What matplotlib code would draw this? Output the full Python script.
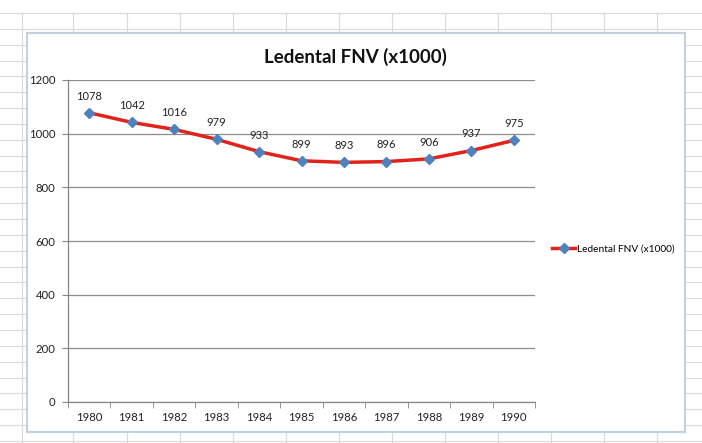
import matplotlib
matplotlib.use("Agg")
import matplotlib.pyplot as plt
from matplotlib.lines import Line2D
from matplotlib.patches import Rectangle

years = ["1980", "1981", "1982", "1983", "1984", "1985", "1986", "1987", "1988", "1989", "1990"]
values = [1078, 1042, 1016, 979, 933, 899, 893, 896, 906, 937, 975]
series_name = "Ledental FNV (x1000)"
title = "Ledental FNV (x1000)"
y_ticks = [0, 200, 400, 600, 800, 1000, 1200]

plt.rcParams['font.family'] = ['Lato', 'DejaVu Sans']

W, H = 702, 443
fig = plt.figure(figsize=(W / 100, H / 100), dpi=100)
fig.patch.set_facecolor("white")

def fx(x):
    return x / W

def fy(y):
    return 1 - y / H

# spreadsheet grid in background
gcol = "#d8dadc"
for x in [22, 73, 127, 180, 233, 286, 339, 392, 445, 498, 551, 604, 657]:
    fig.add_artist(Line2D([fx(x), fx(x)], [fy(13), fy(443)], color=gcol, lw=0.8, zorder=0))
y = 13.0
while y < H:
    fig.add_artist(Line2D([fx(0), fx(W)], [fy(y), fy(y)], color=gcol, lw=0.8, zorder=0))
    y += 15.85

# chart area
fig.add_artist(Rectangle((fx(27), fy(432)), fx(685) - fx(27), fy(33) - fy(432),
                         transform=fig.transFigure, facecolor="white",
                         edgecolor="#c3d2dd", lw=1.6, zorder=1))

ax = fig.add_axes([fx(68), fy(402), fx(535) - fx(68), fy(80) - fy(402)])
ax.set_zorder(3)
ax.patch.set_alpha(0)

xs = list(range(len(years)))
ax.plot(xs, values, color="#e2231a", lw=2.5, marker="D", markersize=5,
        markerfacecolor="#4f81bd", markeredgecolor="#4f81bd", label=series_name, zorder=4)
for x, v in zip(xs, values):
    ax.annotate(str(v), (x, v), xytext=(0, 8), textcoords="offset points",
                ha="center", va="bottom", fontsize=8, color="#222222")

ax.set_xlim(-0.5, len(years) - 0.5)
ax.set_ylim(0, 1200)
ax.set_yticks(y_ticks)
ax.set_yticklabels([str(t) for t in y_ticks])
ax.set_xticks(xs)
ax.set_xticklabels(years)
ax.set_xticks([i - 0.5 for i in range(len(years) + 1)], minor=True)
ax.tick_params(axis="x", which="major", length=0, pad=7, labelsize=8.2, colors="#222222")
ax.tick_params(axis="x", which="minor", length=4, color="#868686", direction="out")
ax.tick_params(axis="y", which="major", length=4, color="#868686", pad=5, labelsize=8.2, labelcolor="#222222")
ax.grid(axis="y", color="#8c8c8c", lw=0.9)
ax.set_axisbelow(True)
for s in ["top", "right"]:
    ax.spines[s].set_visible(False)
for s in ["left", "bottom"]:
    ax.spines[s].set_color("#868686")
    ax.spines[s].set_linewidth(0.9)

fig.text(fx(355), fy(57), title, ha="center", va="center", fontsize=13.5,
         fontweight="bold", color="#111111", zorder=5)

handles, labels = ax.get_legend_handles_labels()
leg = fig.legend(handles, labels, loc="center left", bbox_to_anchor=(fx(543), fy(249)),
                 frameon=False, fontsize=7.3, handlelength=2.3, handletextpad=0.15)
leg.set_zorder(5)

fig.savefig("out.png", dpi=100)
